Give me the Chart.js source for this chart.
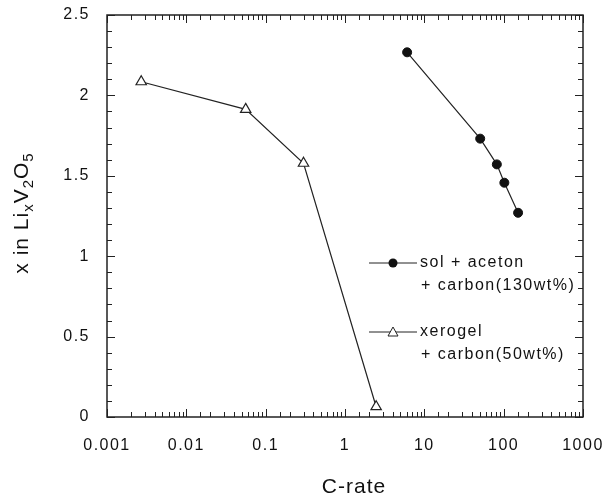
<!DOCTYPE html>
<html>
<head>
<meta charset="utf-8">
<script src="https://cdn.jsdelivr.net/npm/chart.js@4/dist/chart.umd.min.js"></script>
<style>
  html, body { margin: 0; padding: 0; background: #fff; }
  #wrap { width: 606px; height: 503px; }
</style>
</head>
<body>
<div id="wrap"><canvas id="chart" width="606" height="503"></canvas></div>
<script>
// values
const xerogelRate = [0.0027, 0.056, 0.30, 2.47];
const xerogelX = [2.085, 1.913, 1.578, 0.064];
const solRate = [6.07, 50.6, 82, 102, 152];
const solX = [2.268, 1.731, 1.571, 1.457, 1.270];
const xTickLabels = ["0.001", "0.01", "0.1", "1", "10", "100", "1000"];
const yTickLabels = ["0", "0.5", "1", "1.5", "2", "2.5"];

const FONT = "'Liberation Sans', Arial, sans-serif";
const ctx = document.getElementById("chart").getContext("2d");

const isDecade = v => Math.abs(Math.log10(v) - Math.round(Math.log10(v))) < 1e-6;

const noPad = s => { s.paddingTop = 0; s.paddingBottom = 0; s.paddingLeft = 0; s.paddingRight = 0; };

// inward ticks, frame, axis titles and legend
const decor = {
  id: "decor",
  beforeDraw(chart) {
    chart.ctx.letterSpacing = "1.5px";
  },
  afterDraw(chart) {
    const c = chart.ctx;
    const a = chart.chartArea;
    const xs = chart.scales.x, ys = chart.scales.y;
    c.save();
    c.strokeStyle = "#222";
    c.lineWidth = 1;
    c.beginPath();
    xs.ticks.forEach(t => {
      const px = Math.round(xs.getPixelForValue(t.value)) + 0.5;
      const len = isDecade(t.value) ? 8 : 5;
      c.moveTo(px, a.bottom); c.lineTo(px, a.bottom - len);
      c.moveTo(px, a.top); c.lineTo(px, a.top + len);
    });
    for (let i = 0; i <= 25; i++) {
      const py = Math.round(ys.getPixelForValue(i / 10)) + 0.5;
      const len = i % 5 === 0 ? 8 : 5;
      c.moveTo(a.left, py); c.lineTo(a.left + len, py);
      c.moveTo(a.right, py); c.lineTo(a.right - len, py);
    }
    c.stroke();
    c.lineWidth = 1.5;
    c.strokeRect(a.left, a.top, a.right - a.left, a.bottom - a.top);

    c.fillStyle = "#111";
    c.letterSpacing = "1px";
    // x title
    c.font = "21px " + FONT;
    c.textAlign = "center";
    c.textBaseline = "middle";
    c.fillText("C-rate", 354, 487);

    // y title with subscripts, rotated
    c.save();
    c.translate(22, 213);
    c.rotate(-Math.PI / 2);
    const parts = [["x in Li", 0], ["x", 1], ["V", 0], ["2", 1], ["O", 0], ["5", 1]];
    let total = 0;
    parts.forEach(p => {
      c.font = (p[1] ? "15px " : "21px ") + FONT;
      total += c.measureText(p[0]).width;
    });
    let x = -total / 2;
    c.textAlign = "left";
    parts.forEach(p => {
      c.font = (p[1] ? "15px " : "21px ") + FONT;
      c.fillText(p[0], x, p[1] ? 7 : 0);
      x += c.measureText(p[0]).width;
    });
    c.restore();

    // legend
    c.letterSpacing = "1.5px";
    c.font = "16px " + FONT;
    c.textAlign = "left";
    c.lineWidth = 1;
    const rows = [
      { y: 263, lines: ["sol + aceton", "+ carbon(130wt%)"], mark: "circle" },
      { y: 332, lines: ["xerogel", "+ carbon(50wt%)"], mark: "tri" }
    ];
    rows.forEach(r => {
      c.beginPath();
      c.moveTo(369, r.y); c.lineTo(417, r.y);
      c.stroke();
      if (r.mark === "circle") {
        c.beginPath();
        c.arc(393, r.y, 4.5, 0, Math.PI * 2);
        c.fillStyle = "#111";
        c.fill();
      } else {
        c.beginPath();
        c.moveTo(393, r.y - 5); c.lineTo(398, r.y + 4); c.lineTo(388, r.y + 4); c.closePath();
        c.fillStyle = "#fff";
        c.fill();
        c.stroke();
      }
      c.fillStyle = "#111";
      c.fillText(r.lines[0], 420, r.y);
      c.fillText(r.lines[1], 421, r.y + 23);
    });
    c.restore();
  }
};

new Chart(ctx, {
  type: "line",
  data: {
    datasets: [
      {
        label: "sol + aceton + carbon(130wt%)",
        data: solRate.map((r, i) => ({ x: r, y: solX[i] })),
        borderColor: "#222",
        borderWidth: 1.2,
        pointStyle: "circle",
        pointRadius: 4.5,
        pointBackgroundColor: "#111",
        pointBorderColor: "#111",
        pointBorderWidth: 1,
        fill: false
      },
      {
        label: "xerogel + carbon(50wt%)",
        data: xerogelRate.map((r, i) => ({ x: r, y: xerogelX[i] })),
        borderColor: "#222",
        borderWidth: 1.2,
        pointStyle: "triangle",
        pointRadius: 6,
        pointBackgroundColor: "#fff",
        pointBorderColor: "#222",
        pointBorderWidth: 1.2,
        fill: false
      }
    ]
  },
  options: {
    responsive: false,
    animation: false,
    layout: { padding: { left: 0, top: 15, right: 23, bottom: 0 } },
    plugins: { legend: { display: false }, tooltip: { enabled: false } },
    scales: {
      x: {
        type: "logarithmic",
        min: 0.001,
        max: 1000,
        grid: { display: false, drawTicks: false },
        border: { display: false },
        afterFit: s => { s.height = 86; noPad(s); },
        ticks: {
          autoSkip: false,
          maxRotation: 0,
          padding: 19,
          color: "#111",
          font: { family: FONT, size: 16 },
          callback: v => isDecade(v) ? xTickLabels[Math.round(Math.log10(v)) + 3] : ""
        }
      },
      y: {
        min: 0,
        max: 2.5,
        grid: { display: false, drawTicks: false },
        border: { display: false },
        afterFit: s => { s.width = 107; noPad(s); },
        ticks: {
          stepSize: 0.5,
          padding: 17,
          color: "#111",
          font: { family: FONT, size: 16 },
          callback: v => yTickLabels[Math.round(v * 2)]
        }
      }
    }
  },
  plugins: [decor]
});
</script>
</body>
</html>
